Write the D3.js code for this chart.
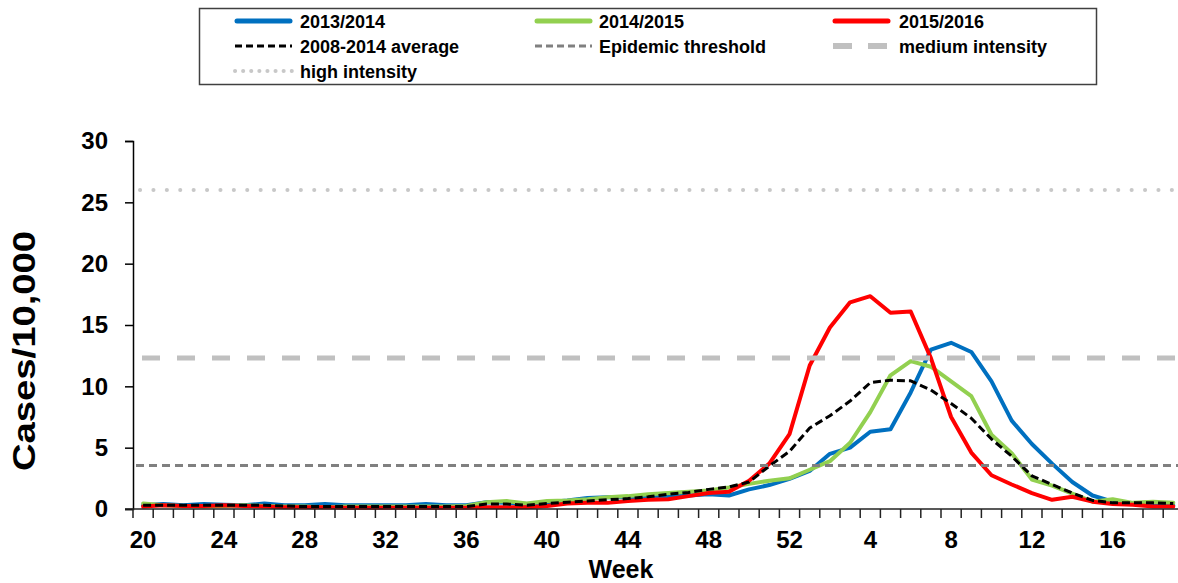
<!DOCTYPE html>
<html>
<head>
<meta charset="utf-8">
<script src="https://cdn.jsdelivr.net/npm/d3@7"></script>
<style>
  html, body { margin: 0; padding: 0; background: #fff; }
  svg { display: block; }
  text { font-family: "Liberation Sans", Arial, sans-serif; font-weight: bold; fill: #000; }
</style>
</head>
<body>
<svg id="chart" width="1178" height="583"></svg>
<script>
// ---- data ----
const weeks = [20,21,22,23,24,25,26,27,28,29,30,31,32,33,34,35,36,37,38,39,40,41,42,43,44,45,46,47,48,49,50,51,52,
               1,2,3,4,5,6,7,8,9,10,11,12,13,14,15,16,17,18,19];
const tickLabels = ["20","24","28","32","36","40","44","48","52","4","8","12","16"];
const seriesNames = ["2013/2014","2014/2015","2015/2016","2008-2014 average","Epidemic threshold","medium intensity","high intensity"];

const s2013 = [0.3,0.4,0.3,0.4,0.35,0.3,0.45,0.3,0.3,0.4,0.3,0.3,0.3,0.3,0.4,0.3,0.3,
               0.55,0.5,0.4,0.55,0.7,0.9,0.95,0.95,1.0,1.0,1.1,1.2,1.1,1.6,1.95,2.45,
               3.1,4.5,5.0,6.3,6.5,9.5,13.0,13.55,12.8,10.4,7.2,5.3,3.7,2.2,1.1,0.6,0.45,0.4,0.3];
const s2014 = [0.45,0.3,0.25,0.2,0.25,0.3,0.25,0.2,0.2,0.15,0.2,0.2,0.2,0.2,0.2,0.2,0.25,
               0.55,0.65,0.45,0.65,0.7,0.8,0.95,1.05,1.2,1.3,1.4,1.5,1.75,2.05,2.3,2.5,
               3.2,3.9,5.4,7.9,10.9,12.05,11.6,10.4,9.2,6.05,4.55,2.4,1.9,1.25,0.6,0.8,0.5,0.6,0.5];
const s2015 = [0.2,0.3,0.25,0.25,0.3,0.25,0.2,0.15,0.15,0.15,0.1,0.1,0.1,0.1,0.1,0.1,0.1,
               0.15,0.15,0.15,0.25,0.45,0.5,0.5,0.65,0.75,0.8,1.05,1.3,1.4,2.3,3.7,6.1,
               11.7,14.8,16.85,17.35,16.0,16.1,12.3,7.5,4.6,2.75,2.0,1.3,0.75,1.0,0.6,0.4,0.35,0.2,0.2];
const sAvg  = [0.3,0.3,0.3,0.3,0.3,0.3,0.3,0.25,0.2,0.2,0.2,0.2,0.2,0.2,0.2,0.2,0.2,
               0.4,0.4,0.3,0.45,0.55,0.65,0.75,0.85,1.0,1.2,1.35,1.6,1.8,2.2,3.5,4.7,
               6.6,7.6,8.8,10.3,10.5,10.45,9.7,8.6,7.4,5.7,4.3,2.7,2.0,1.3,0.7,0.5,0.5,0.5,0.45];
const epidemicThreshold = 3.55;
const mediumIntensity = 12.3;
const highIntensity = 26.0;
const yTicks = [0,5,10,15,20,25,30];

// ---- styles ----
const styles = {
  "2013/2014":          {stroke:"#0070C0", width:4, dash:null, cap:"round", start:0},
  "2014/2015":          {stroke:"#92D050", width:4, dash:null, cap:"round", start:0},
  "2015/2016":          {stroke:"#FF0000", width:4, dash:null, cap:"round", start:0},
  "2008-2014 average":  {stroke:"#000000", width:3, dash:"8 4", cap:"butt", start:0},
  "Epidemic threshold": {stroke:"#808080", width:3, dash:"8 5", cap:"butt", start:3},
  "medium intensity":   {stroke:"#C0C0C0", width:5, dash:"18 17", cap:"butt", start:9},
  "high intensity":     {stroke:"#C8C8C8", width:4, dash:"0.1 13.3", cap:"round", start:7}
};

const svg = d3.select("#chart");
const x0 = 133, y0 = 509, y1 = 141;
const step = 20.2;

const x = d3.scaleBand().domain(d3.range(weeks.length)).range([x0, x0 + weeks.length * step]).padding(0);
const y = d3.scaleLinear().domain([0, 30]).range([y0, y1]);
const cx = i => x(i) + x.bandwidth() / 2;

// ---- series lines ----
const lineGen = d3.line().x((d, i) => cx(i)).y(d => y(d));
const seriesData = [
  [seriesNames[0], s2013],
  [seriesNames[1], s2014],
  [seriesNames[2], s2015],
  [seriesNames[3], sAvg]
];
const plot = svg.append("g");
seriesData.forEach(([name, vals]) => {
  const st = styles[name];
  plot.append("path")
    .attr("d", lineGen(vals))
    .attr("fill", "none")
    .attr("stroke", st.stroke)
    .attr("stroke-width", st.width)
    .attr("stroke-linejoin", "round")
    .attr("stroke-linecap", st.cap)
    .attr("stroke-dasharray", st.dash);
});

// ---- threshold lines ----
const thresholds = [
  [seriesNames[4], epidemicThreshold],
  [seriesNames[5], mediumIntensity],
  [seriesNames[6], highIntensity]
];
thresholds.forEach(([name, v]) => {
  const st = styles[name];
  plot.append("line")
    .attr("x1", x0 + st.start).attr("x2", 1178)
    .attr("y1", y(v)).attr("y2", y(v))
    .attr("stroke", st.stroke)
    .attr("stroke-width", st.width)
    .attr("stroke-linecap", st.cap)
    .attr("stroke-dasharray", st.dash);
});

// ---- y axis ----
const yAxis = d3.axisLeft(y).tickValues(yTicks).tickSize(8).tickPadding(17).tickFormat(d3.format("d"));
const gy = svg.append("g").attr("transform", `translate(${x0},0)`).call(yAxis);
gy.select(".domain").attr("stroke", "#000").attr("stroke-width", 1.5);
gy.selectAll(".tick line").attr("stroke", "#000").attr("stroke-width", 1.5);
gy.selectAll(".tick text").style("font-size", "24px").style("font-family", "'Liberation Sans', Arial, sans-serif").style("font-weight", "bold");

// ---- x axis ----
const gx = svg.append("g").attr("transform", `translate(0,${y0})`);
gx.append("line").attr("x1", x0 - 8).attr("x2", 1178).attr("y1", 0).attr("y2", 0)
  .attr("stroke", "#222").attr("stroke-width", 1.5);
gx.selectAll(".bt").data(d3.range(weeks.length + 1)).join("line")
  .attr("class", "bt")
  .attr("x1", i => i < weeks.length ? x(i) : x(weeks.length - 1) + x.bandwidth())
  .attr("x2", i => i < weeks.length ? x(i) : x(weeks.length - 1) + x.bandwidth())
  .attr("y1", 0).attr("y2", 9)
  .attr("stroke", "#222").attr("stroke-width", 1.5);

const xAxis = d3.axisBottom(x)
  .tickValues(tickLabels.map(t => {
    const w = +t;
    // weeks 20..52 come first, then 1..19
    return w >= 20 ? weeks.indexOf(w) : weeks.lastIndexOf(w);
  }))
  .tickSize(0).tickPadding(22)
  .tickFormat(i => String(weeks[i]));
const gxl = svg.append("g").attr("transform", `translate(0,${y0})`).call(xAxis);
gxl.select(".domain").remove();
gxl.selectAll(".tick text").style("font-size", "24px").style("font-family", "'Liberation Sans', Arial, sans-serif").style("font-weight", "bold");

// ---- axis titles ----
svg.append("text")
  .attr("x", 621).attr("y", 578)
  .attr("text-anchor", "middle")
  .style("font-size", "25px")
  .text("Week");

svg.append("text")
  .attr("transform", "translate(35,351) rotate(-90)")
  .attr("text-anchor", "middle")
  .attr("textLength", 240)
  .attr("lengthAdjust", "spacingAndGlyphs")
  .style("font-size", "31px")
  .text("Cases/10,000");

// ---- legend ----
const lg = svg.append("g");
lg.append("rect").attr("x", 199.5).attr("y", 8.5).attr("width", 897).attr("height", 76)
  .attr("fill", "#fff").attr("stroke", "#404040").attr("stroke-width", 1.5);
const legendPos = [
  {lx: 235, tx: 300, ly: 21},
  {lx: 535, tx: 599, ly: 21},
  {lx: 833, tx: 899, ly: 21},
  {lx: 235, tx: 300, ly: 46},
  {lx: 535, tx: 599, ly: 46},
  {lx: 833, tx: 899, ly: 46},
  {lx: 235, tx: 300, ly: 71}
];
const legendDash = {
  "2008-2014 average": "7 4",
  "Epidemic threshold": "7 4",
  "medium intensity": "19 16",
  "high intensity": "0.1 8"
};
seriesNames.forEach((name, k) => {
  const p = legendPos[k];
  const st = styles[name];
  const solid = !st.dash;
  lg.append("line")
    .attr("x1", p.lx + (solid ? 2 : 0)).attr("x2", p.lx + 57 - (solid ? 2 : 0))
    .attr("y1", p.ly).attr("y2", p.ly)
    .attr("stroke", st.stroke)
    .attr("stroke-width", solid ? 5 : (name === "medium intensity" ? 6 : (name === "high intensity" ? 4 : 3)))
    .attr("stroke-linecap", solid || name === "high intensity" ? "round" : "butt")
    .attr("stroke-dasharray", solid ? null : legendDash[name]);
  lg.append("text")
    .attr("x", p.tx).attr("y", p.ly + 7)
    .style("font-size", "18px")
    .text(name);
});
</script>
</body>
</html>
